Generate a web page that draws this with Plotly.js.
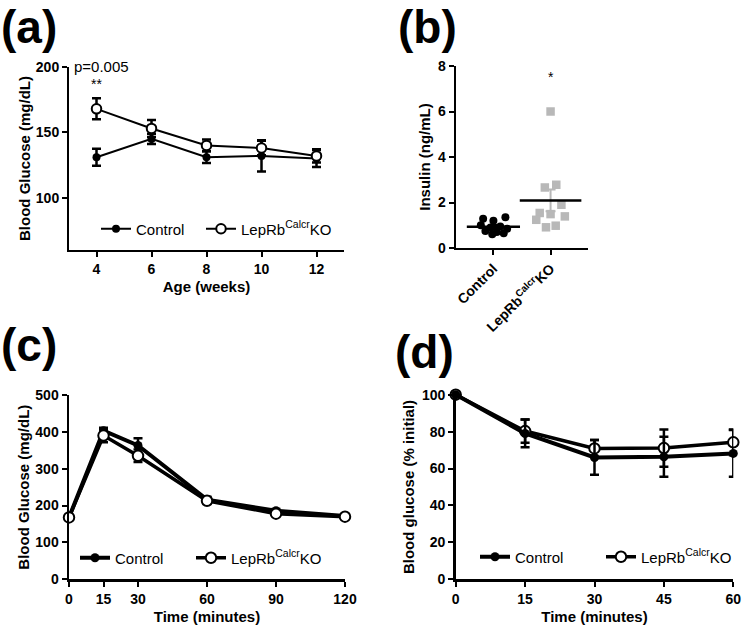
<!DOCTYPE html>
<html>
<head>
<meta charset="utf-8">
<script src="https://cdn.plot.ly/plotly-3.0.1.min.js"></script>
<style>html,body{margin:0;padding:0;background:#fff;}#chart{width:742px;height:627px;}</style>
</head>
<body>
<div id="chart"></div>
<script>
// ---------- DATA ----------
// Panel (a): blood glucose vs age
const ageWeeks = [4, 6, 8, 10, 12];
const ageTicks = [4, 6, 8, 10, 12];
const glucoseAgeControl = [131, 145, 131, 132, 130];
const glucoseAgeControlErr = [6.5, 4, 4.5, 12, 6.5];
const glucoseAgeKO = [168, 153, 140, 138, 132];
const glucoseAgeKOErr = [8, 6.5, 4.5, 5.5, 5];

// Panel (b): insulin scatter
const insulinCategories = ["Control", "LepRb<sup>Calcr</sup>KO"];
const insulinControl = [1.29, 1.20, 1.35, 1.00, 0.95, 0.90, 0.85, 0.75, 0.70, 0.65, 0.60];
const insulinControlJitter = [-0.18, 0.0, 0.21, -0.22, 0.12, -0.05, 0.24, -0.14, 0.06, 0.18, -0.02];
const insulinKO = [6.0, 2.66, 2.78, 1.9, 1.54, 1.49, 1.24, 1.39, 0.91, 0.98];
const insulinKOJitter = [0.0, -0.1, 0.1, 0.19, -0.19, 0.0, -0.25, 0.25, -0.08, 0.09];

// Panel (c): glucose tolerance test
const gttTime = [0, 15, 30, 60, 90, 120];
const gttControl = [168, 403, 363, 216, 186, 172];
const gttControlErr = [5, 8, 20, 8, 5, 4];
const gttKO = [168, 390, 335, 213, 178, 170];
const gttKOErr = [5, 18, 17, 8, 5, 4];

// Panel (d): insulin tolerance test (% initial)
const ittTime = [0, 15, 30, 45, 60];
const ittControl = [100, 79, 66, 66.4, 68.2];
const ittControlErr = [0, 7.5, 9.4, 10.8, 12.7];
const ittKO = [100, 80.3, 70.9, 71.1, 74.2];
const ittKOErr = [0, 6.3, 4.5, 10.1, 7];

const controlName = "Control";
const koName = "LepRb<sup>Calcr</sup>KO";

// ---------- HELPERS ----------
const W = 742, H = 627;
const dx = (a, b) => [a / W, b / W];
const dy = (top, bottom) => [1 - bottom / H, 1 - top / H];
const mean = a => a.reduce((s, v) => s + v, 0) / a.length;
const sem = a => { const m = mean(a); const sd = Math.sqrt(a.reduce((s, v) => s + (v - m) ** 2, 0) / (a.length - 1)); return sd / Math.sqrt(a.length); };

const FONT = "Liberation Sans, Arial, Helvetica, sans-serif";
const bold = { family: FONT, size: 14, color: "#000", weight: "bold" };
const titleFont = { family: FONT, size: 15, color: "#000", weight: "bold" };

function lineTrace(x, y, err, open, name, xa, ya, lg, lw, msize, ew) {
  return {
    type: "scatter", mode: "lines+markers", x: x, y: y, name: name,
    xaxis: xa, yaxis: ya, legend: lg, showlegend: true,
    line: { color: "#000", width: lw },
    marker: open ? { symbol: "circle", size: msize, color: "#fff", line: { color: "#000", width: 2 } }
                 : { symbol: "circle", size: msize - 1, color: "#000", line: { color: "#000", width: 0 } },
    error_y: { type: "data", array: err, visible: true, color: "#000", thickness: ew, width: 4.5 },
    cliponaxis: false
  };
}

const traces = [
  lineTrace(ageWeeks, glucoseAgeControl, glucoseAgeControlErr, false, controlName, "x", "y", "legend", 2, 9, 2.5),
  lineTrace(ageWeeks, glucoseAgeKO, glucoseAgeKOErr, true, koName, "x", "y", "legend2", 2, 9.5, 2.5),

  // panel b scatter
  { type: "scatter", mode: "markers", xaxis: "x2", yaxis: "y2", showlegend: false,
    x: insulinControlJitter.map(j => 0 + j), y: insulinControl,
    marker: { symbol: "circle", size: 8, color: "#000" }, cliponaxis: false },
  { type: "scatter", mode: "markers", xaxis: "x2", yaxis: "y2", showlegend: false,
    x: insulinKOJitter.map(j => 1 + j), y: insulinKO,
    marker: { symbol: "square", size: 8.5, color: "#b8b8b8" }, cliponaxis: false },
  // mean + SEM
  { type: "scatter", mode: "markers", xaxis: "x2", yaxis: "y2", showlegend: false,
    x: [0], y: [mean(insulinControl)],
    marker: { symbol: "line-ew", size: 38, line: { color: "#000", width: 2.5 } },
    error_y: { type: "data", array: [sem(insulinControl)], color: "#000", thickness: 2, width: 5 } },
  { type: "scatter", mode: "markers", xaxis: "x2", yaxis: "y2", showlegend: false,
    x: [1], y: [mean(insulinKO)],
    marker: { symbol: "line-ew", size: 44, line: { color: "#000", width: 2.5 } },
    error_y: { type: "data", array: [sem(insulinKO)], color: "#b8b8b8", thickness: 2, width: 5 } },

  lineTrace(gttTime, gttControl, gttControlErr, false, controlName, "x3", "y3", "legend3", 4, 10, 2.5),
  lineTrace(gttTime, gttKO, gttKOErr, true, koName, "x3", "y3", "legend4", 3.5, 10.5, 2.5),

  lineTrace(ittTime, ittKO, ittKOErr, true, koName, "x4", "y4", "legend6", 3.5, 10.5, 2.5),
  lineTrace(ittTime, ittControl, ittControlErr, false, controlName, "x4", "y4", "legend5", 4, 10, 2.5)
];

function axis(extra) {
  return Object.assign({
    showgrid: false, zeroline: false, showline: true, linecolor: "#000", linewidth: 2,
    ticks: "outside", ticklen: 5, tickwidth: 2, tickcolor: "#000",
    tickfont: bold, fixedrange: true
  }, extra);
}

function legendCfg(x, y) {
  return { x: x, y: y, xanchor: "left", yanchor: "middle", orientation: "h",
    font: { family: FONT, size: 15, color: "#000" }, bgcolor: "rgba(0,0,0,0)",
    itemclick: false, itemdoubleclick: false };
}

const layout = {
  width: W, height: H, margin: { l: 0, r: 0, t: 0, b: 0 },
  paper_bgcolor: "#fff", plot_bgcolor: "rgba(0,0,0,0)",
  font: { family: FONT, color: "#000" },
  showlegend: true,
  xaxis: axis({ domain: dx(69, 344), anchor: "y", range: [3, 13], tickvals: ageTicks,
    title: { text: "Age (weeks)", font: titleFont, standoff: 6 } }),
  yaxis: axis({ domain: dy(67, 250), anchor: "x", range: [60, 200], tickvals: [100, 150, 200],
    title: { text: "Blood Glucose (mg/dL)", font: titleFont, standoff: 2 } }),

  xaxis2: axis({ domain: dx(455.7, 587.7), anchor: "y2", range: [-0.66, 1.65], tickvals: [0, 1],
    ticktext: insulinCategories, tickangle: -45 }),
  yaxis2: axis({ domain: dy(66, 248), anchor: "x2", range: [0, 8], tickvals: [0, 2, 4, 6, 8],
    title: { text: "Insulin (ng/mL)", font: titleFont, standoff: 4 } }),

  xaxis3: axis({ domain: dx(69, 345), anchor: "y3", range: [0, 120], tickvals: gttTime, linewidth: 2.5,
    title: { text: "Time (minutes)", font: titleFont, standoff: 6 } }),
  yaxis3: axis({ domain: dy(395, 579.3), anchor: "x3", range: [0, 500], dtick: 100, linewidth: 2.5,
    title: { text: "Blood Glucose (mg/dL)", font: titleFont, standoff: 2 } }),

  xaxis4: axis({ domain: dx(455.7, 733.3), anchor: "y4", range: [0, 60], tickvals: [0, 15, 30, 45, 60], linewidth: 2.5,
    title: { text: "Time (minutes)", font: titleFont, standoff: 6 } }),
  yaxis4: axis({ domain: dy(394.7, 579.3), anchor: "x4", range: [0, 100], dtick: 20, linewidth: 2.5,
    title: { text: "Blood glucose (% initial)", font: titleFont, standoff: 4 } }),

  legend: legendCfg(96 / W, 1 - 229 / H),
  legend2: legendCfg(201 / W, 1 - 229 / H),
  legend3: legendCfg(75 / W, 1 - 558 / H),
  legend4: legendCfg(191 / W, 1 - 558 / H),
  legend5: legendCfg(475 / W, 1 - 557 / H),
  legend6: legendCfg(601 / W, 1 - 557 / H),

  annotations: [
    { text: "<b>(a)</b>", xref: "paper", yref: "paper", x: 0, y: 1, xanchor: "left", yanchor: "top", showarrow: false, font: { family: FONT, size: 46, color: "#000" }, borderpad: 0 },
    { text: "<b>(b)</b>", xref: "paper", yref: "paper", x: 397 / W, y: 1, xanchor: "left", yanchor: "top", showarrow: false, font: { family: FONT, size: 46, color: "#000" }, borderpad: 0 },
    { text: "<b>(c)</b>", xref: "paper", yref: "paper", x: 0, y: 1 - 318 / H, xanchor: "left", yanchor: "top", showarrow: false, font: { family: FONT, size: 46, color: "#000" }, borderpad: 0 },
    { text: "<b>(d)</b>", xref: "paper", yref: "paper", x: 394 / W, y: 1 - 325 / H, xanchor: "left", yanchor: "top", showarrow: false, font: { family: FONT, size: 46, color: "#000" }, borderpad: 0 },
    { text: "p=0.005", xref: "paper", yref: "paper", x: 72 / W, y: 1 - 66 / H, xanchor: "left", yanchor: "middle", showarrow: false, font: { family: FONT, size: 15, color: "#000" } },
    { text: "**", xref: "x", yref: "y", x: 4, y: 187, showarrow: false, font: { family: FONT, size: 14, color: "#000" } },
    { text: "*", xref: "x2", yref: "y2", x: 1, y: 7.5, showarrow: false, font: { family: FONT, size: 14, color: "#000" } }
  ]
};

Plotly.newPlot("chart", traces, layout, { displayModeBar: false, staticPlot: true });
</script>
</body>
</html>
